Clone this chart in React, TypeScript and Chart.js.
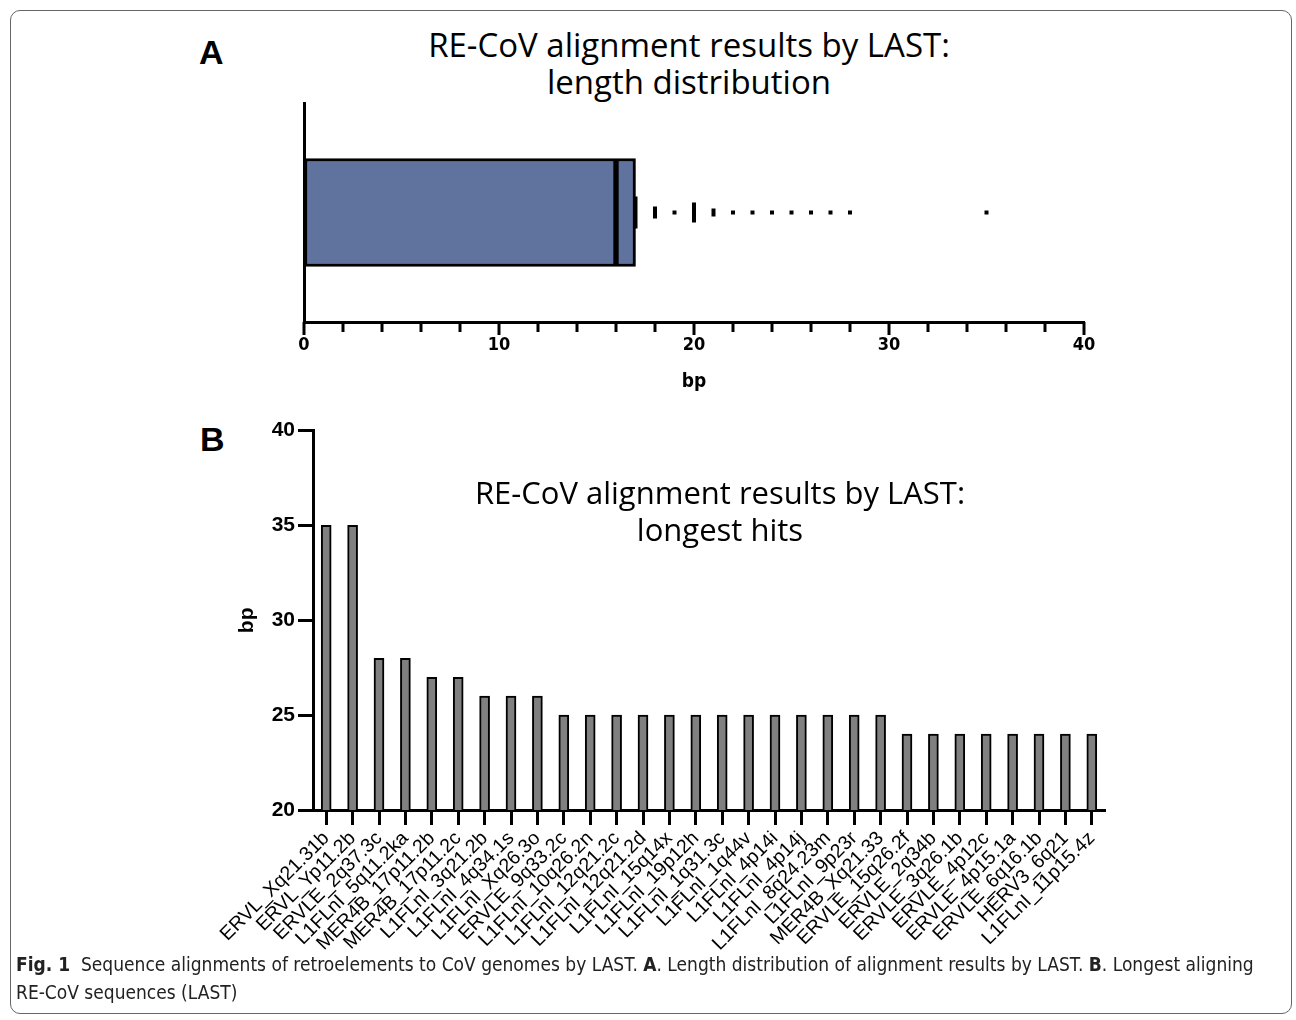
import React, { useEffect, useRef } from "react";
import { Chart, registerables } from "chart.js";

Chart.register(...registerables);

// ---------- Panel A data: length distribution (box + outliers) ----------
const boxRange = [0, 17];
const boxMedian = 16;
const outlierValues = [17, 18, 19, 20, 21, 22, 23, 24, 25, 26, 27, 28, 35];
const outlierStack = [8, 3, 1, 5, 2, 1, 1, 1, 1, 1, 1, 1, 1];
const axisATicks = [0, 10, 20, 30, 40];
const axisAMinorStep = 2;

// ---------- Panel B data: longest hits ----------
const hitNames = [
  "ERVL_Xq21.31b",
  "ERVL_Yp11.2b",
  "ERVLE_2q37.3c",
  "L1FLnI_5q11.2ka",
  "MER4B_17p11.2b",
  "MER4B_17p11.2c",
  "L1FLnI_3q21.2b",
  "L1FLnI_4q34.1s",
  "L1FLnI_Xq26.3o",
  "ERVLE_9q33.2c",
  "L1FLnI_10q26.2n",
  "L1FLnI_12q21.2c",
  "L1FLnI_12q21.2d",
  "L1FLnI_15q14x",
  "L1FLnI_19p12h",
  "L1FLnI_1q31.3c",
  "L1FLnI_1q44v",
  "L1FLnI_4p14i",
  "L1FLnI_4p14j",
  "L1FLnI_8q24.23m",
  "L1FLnI_9p23r",
  "MER4B_Xq21.33",
  "ERVLE_15q26.2f",
  "ERVLE_2q34b",
  "ERVLE_3q26.1b",
  "ERVLE_4p12c",
  "ERVLE_4p15.1a",
  "ERVLE_6q16.1b",
  "HERV3_6q21",
  "L1FLnI_11p15.4z",
];
const hitLengths = [
  35, 35, 28, 28, 27, 27, 26, 26, 26, 25, 25, 25, 25, 25, 25, 25, 25, 25, 25,
  25, 25, 25, 24, 24, 24, 24, 24, 24, 24, 24,
];
const axisBTicks = [20, 25, 30, 35, 40];

const SANS = "'Liberation Sans', Arial, Helvetica, sans-serif";
const NARROW = "'Liberation Sans Narrow', 'DejaVu Sans Condensed', 'Liberation Sans', sans-serif";
const TITLE_FONT = "'Open Sans', 'Noto Sans', sans-serif";

const tickMarksA = {
  id: "tickMarksA",
  afterDraw(chart: any) {
    const s = chart.scales.x;
    const ctx = chart.ctx;
    const y0 = chart.chartArea.bottom;
    ctx.save();
    ctx.strokeStyle = "#000";
    ctx.lineWidth = 3;
    for (let v = s.min; v <= s.max; v += axisAMinorStep) {
      const x = Math.round(s.getPixelForValue(v));
      const len = axisATicks.includes(v) ? 13 : 10;
      ctx.beginPath();
      ctx.moveTo(x, y0);
      ctx.lineTo(x, y0 + len);
      ctx.stroke();
    }
    ctx.restore();
  },
};

function PanelA() {
  const ref = useRef<HTMLCanvasElement | null>(null);
  useEffect(() => {
    if (!ref.current) return;
    const chart = new Chart(ref.current, {
      type: "bar",
      data: {
        labels: ["len"],
        datasets: [
          {
            type: "scatter",
            data: outlierValues.map((v) => ({ x: v, y: "len" })) as any,
            showLine: false,
            pointStyle: "line",
            pointRotation: 90,
            pointRadius: outlierStack.map((n) => 2 * n),
            pointBorderWidth: 4,
            pointBorderColor: "#000",
            pointBackgroundColor: "#000",
            order: 0,
          } as any,
          {
            type: "bar",
            data: [[boxRange[0], boxMedian]] as any,
            backgroundColor: "#60739E",
            borderColor: "#000",
            borderWidth: 3,
            borderSkipped: false,
            barThickness: 108,
            grouped: false,
            order: 2,
          } as any,
          {
            type: "bar",
            data: [[boxMedian, boxRange[1]]] as any,
            backgroundColor: "#60739E",
            borderColor: "#000",
            borderWidth: 3,
            borderSkipped: false,
            barThickness: 108,
            grouped: false,
            order: 1,
          } as any,
        ],
      },
      options: {
        indexAxis: "y",
        animation: false,
        responsive: false,
        maintainAspectRatio: false,
        layout: { autoPadding: false, padding: { left: 104, right: 66, top: 13, bottom: 0 } },
        plugins: { legend: { display: false }, tooltip: { enabled: false } },
        scales: {
          x: {
            type: "linear",
            min: 0,
            max: 40,
            afterBuildTicks: (s: any) => {
              s.ticks = axisATicks.map((v) => ({ value: v }));
            },
            ticks: {
              autoSkip: false,
              maxRotation: 0,
              color: "#000",
              padding: 1,
              font: { family: NARROW, size: 18, weight: "bold" },
            },
            grid: {
              drawOnChartArea: false,
              drawTicks: true,
              tickLength: 12,
              color: "rgba(0,0,0,0)",
            },
            border: { display: true, color: "#000", width: 3 },
            title: {
              display: true,
              text: "bp",
              color: "#000",
              font: { family: NARROW, size: 19, weight: "bold" },
              padding: { top: 0, bottom: 17 },
            },
            afterFit: (s: any) => {
              s.height = 88;
            },
          },
          y: {
            type: "category",
            offset: true,
            ticks: { display: false },
            grid: { display: false, drawTicks: false },
            border: { display: true, color: "#000", width: 3 },
            afterFit: (s: any) => {
              s.width = 0;
            },
          },
        } as any,
      },
      plugins: [tickMarksA],
    });
    return () => chart.destroy();
  }, []);
  return (
    <canvas
      ref={ref}
      width={950}
      height={320}
      style={{ position: "absolute", left: 200, top: 90, width: 950, height: 320 }}
    />
  );
}

function PanelB() {
  const ref = useRef<HTMLCanvasElement | null>(null);
  useEffect(() => {
    if (!ref.current) return;
    const chart = new Chart(ref.current, {
      type: "bar",
      data: {
        labels: hitNames,
        datasets: [
          {
            data: hitLengths,
            backgroundColor: "#808080",
            borderColor: "#000",
            borderWidth: 2,
            borderSkipped: false,
            barThickness: 10,
          },
        ],
      },
      options: {
        animation: false,
        responsive: false,
        maintainAspectRatio: false,
        layout: { autoPadding: false, padding: { left: 0, right: 15, top: 15, bottom: 0 } },
        plugins: { legend: { display: false }, tooltip: { enabled: false } },
        scales: {
          x: {
            offset: true,
            grid: {
              offset: false,
              drawOnChartArea: false,
              tickLength: 15,
              tickWidth: 3,
              color: "#000",
            },
            border: { display: true, color: "#000", width: 3 },
            ticks: {
              autoSkip: false,
              minRotation: 45,
              maxRotation: 45,
              color: "#000",
              padding: 2,
              font: { family: SANS, size: 19.5 },
            },
            afterFit: (s: any) => {
              s.height = 145;
            },
          },
          y: {
            min: 20,
            max: 40,
            afterBuildTicks: (s: any) => {
              s.ticks = axisBTicks.map((v) => ({ value: v }));
            },
            ticks: {
              color: "#000",
              padding: 3,
              font: { family: SANS, size: 21, weight: "bold" },
            },
            grid: {
              drawOnChartArea: false,
              tickLength: 15,
              tickWidth: 3,
              color: "#000",
            },
            border: { display: true, color: "#000", width: 3 },
            title: {
              display: true,
              text: "bp",
              color: "#000",
              font: { family: SANS, size: 21, weight: "bold" },
              padding: { top: 35, bottom: 0 },
            },
            afterFit: (s: any) => {
              s.width = 113;
            },
          },
        } as any,
      },
    });
    return () => chart.destroy();
  }, []);
  return (
    <canvas
      ref={ref}
      width={920}
      height={540}
      style={{ position: "absolute", left: 200, top: 415, width: 920, height: 540 }}
    />
  );
}

export default function App() {
  const titleStyle: React.CSSProperties = {
    position: "absolute",
    fontFamily: TITLE_FONT,
    color: "#000",
    textAlign: "center",
    whiteSpace: "nowrap",
    transform: "translateX(-50%)",
  };
  return (
    <div
      style={{
        position: "absolute",
        left: 0,
        top: 0,
        width: 1296,
        height: 1020,
        background: "#fff",
        overflow: "hidden",
      }}
    >
      <div
        style={{
          position: "absolute",
          left: 10,
          top: 10,
          width: 1282,
          height: 1004,
          border: "1px solid #666",
          borderRadius: 10,
          boxSizing: "border-box",
        }}
      />
      <div
        style={{
          position: "absolute",
          left: 199,
          top: 33,
          fontFamily: SANS,
          fontWeight: "bold",
          fontSize: 34,
          lineHeight: "38px",
        }}
      >
        A
      </div>
      <div
        style={{
          position: "absolute",
          left: 200,
          top: 420,
          fontFamily: SANS,
          fontWeight: "bold",
          fontSize: 34,
          lineHeight: "38px",
        }}
      >
        B
      </div>
      <div style={{ ...titleStyle, left: 689, top: 26, fontSize: 33, lineHeight: "37px" }}>
        RE-CoV alignment results by LAST:
        <br />
        length distribution
      </div>
      <PanelA />
      <PanelB />
      <div style={{ ...titleStyle, left: 720, top: 474, fontSize: 31, lineHeight: "37px" }}>
        RE-CoV alignment results by LAST:
        <br />
        longest hits
      </div>
      <div
        style={{
          position: "absolute",
          left: 16,
          top: 950,
          fontFamily: NARROW,
          fontSize: 19,
          lineHeight: "28px",
          color: "#222",
          whiteSpace: "nowrap",
        }}
      >
        <b>Fig. 1</b>&nbsp;&nbsp;Sequence alignments of retroelements to CoV genomes by LAST. <b>A</b>. Length
        distribution of alignment results by LAST. <b>B</b>. Longest aligning
        <br />
        RE-CoV sequences (LAST)
      </div>
    </div>
  );
}
